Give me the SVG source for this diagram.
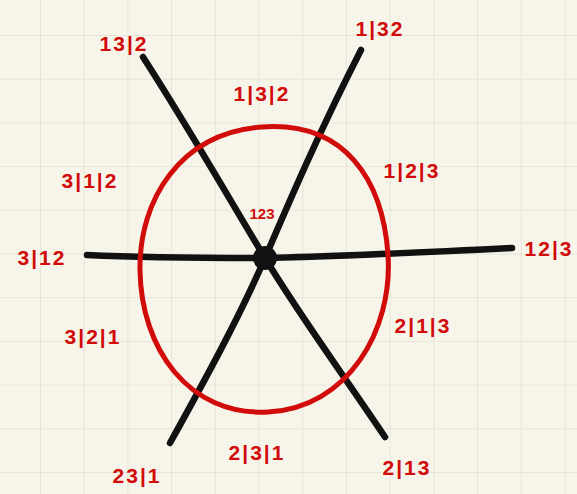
<svg xmlns="http://www.w3.org/2000/svg" width="577" height="494" viewBox="0 0 577 494">
<defs>
<pattern id="grid" x="40" y="35" width="43.7" height="43.7" patternUnits="userSpaceOnUse">
<path d="M0 0 H43.7 M0 0 V43.7" fill="none" stroke="#e2dfd3" stroke-width="1.5"/>
</pattern>
<style>
.lbl{font-family:"Liberation Sans",Arial,sans-serif;font-weight:bold;fill:#d10a0a;text-anchor:middle;dominant-baseline:central;font-size:21px;letter-spacing:2px}
.ln{stroke:#111;stroke-width:6.5;stroke-linecap:round;fill:none}
</style>
</defs>
<rect width="577" height="494" fill="#f7f5ea"/>
<rect width="577" height="494" fill="url(#grid)"/>
<g id="connectors">
<path class="ln" d="M143 57 C190 130 230 200 265 258 C300 316 340 370 385 437"/>
<path class="ln" d="M361 50 C320 130 290 200 265 258 C240 316 205 380 170 443"/>
<path class="ln" d="M87 255 C150 258 210 258 265 258 C350 256 430 252 512 248"/>
</g>
<g id="circle">
<path d="M262 127 C345 121 383 180 388 255 C393 330 348 408 268 412 C188 416 141 348 140 270 C139 200 180 133 262 127 Z" fill="none" stroke="#d10a0a" stroke-width="5" stroke-linejoin="round"/>
</g>
<g id="center"><circle cx="265" cy="258" r="12" fill="#111"/></g>
<g id="labels">
<text class="lbl" x="124" y="43">13|2</text>
<text class="lbl" x="380" y="28">1|32</text>
<text class="lbl" x="262" y="93">1|3|2</text>
<text class="lbl" x="90" y="180">3|1|2</text>
<text class="lbl" x="412" y="170">1|2|3</text>
<text class="lbl" x="262" y="213" style="font-size:15px;letter-spacing:0">123</text>
<text class="lbl" x="42" y="257">3|12</text>
<text class="lbl" x="549" y="248">12|3</text>
<text class="lbl" x="93" y="336">3|2|1</text>
<text class="lbl" x="423" y="325">2|1|3</text>
<text class="lbl" x="257" y="452">2|3|1</text>
<text class="lbl" x="137" y="475">23|1</text>
<text class="lbl" x="407" y="467">2|13</text>
</g>
</svg>
